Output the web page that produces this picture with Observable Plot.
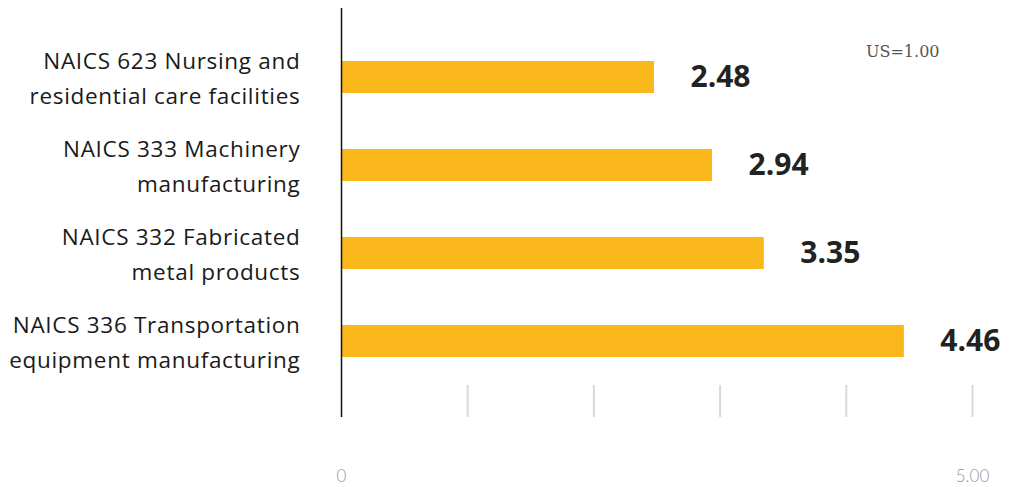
<!DOCTYPE html>
<html>
<head>
<meta charset="utf-8">
<script src="https://cdn.jsdelivr.net/npm/d3@7"></script>
<script src="https://cdn.jsdelivr.net/npm/@observablehq/plot@0.6"></script>
<style>
  html, body { margin: 0; padding: 0; background: #fff; }
  #chart svg { display: block; }
  #chart g[aria-label="y-axis tick label"] text { letter-spacing: 0.7px; }
</style>
</head>
<body>
<div id="chart"></div>
<script>
const categories = [
  "NAICS 623 Nursing and\nresidential care facilities",
  "NAICS 333 Machinery\nmanufacturing",
  "NAICS 332 Fabricated\nmetal products",
  "NAICS 336 Transportation\nequipment manufacturing"
];
const values = [2.48, 2.94, 3.35, 4.46];
const valueLabels = ["2.48", "2.94", "3.35", "4.46"];
const gridTicks = [1, 2, 3, 4, 5];
const axisTicks = [0, 5];
const axisTickLabels = ["0", "5.00"];
const note = "US=1.00";

const data = categories.map((c, i) => ({category: c, value: values[i], label: valueLabels[i]}));

const chart = Plot.plot({
  width: 1012,
  height: 487,
  marginLeft: 341,
  marginRight: 40,
  marginTop: 8,
  marginBottom: 70,
  style: {fontFamily: "'Open Sans', Lato, sans-serif", background: "#fff"},
  x: {domain: [0, 5]},
  y: {domain: categories, paddingInner: 0.64, paddingOuter: 0.618, align: 0.47},
  marks: [
    Plot.ruleX(gridTicks, {stroke: "#d9d9d9", strokeWidth: 2, insetTop: 377}),
    Plot.barX(data, {y: "category", x: "value", fill: "#F9B71B"}),
    Plot.ruleX([0], {stroke: "#111", strokeWidth: 1.5}),
    Plot.text(data, {y: "category", x: "value", text: "label", textAnchor: "start", dx: 36,
      fontSize: 30, fontWeight: 700, fill: "#222"}),
    Plot.text([note], {frameAnchor: "top-right", text: d => d, dx: -33, dy: 37,
      fontSize: 16, fontWeight: 300, fill: "#555", fontFamily: "'DejaVu Serif', serif", textAnchor: "end"}),
    Plot.axisY({tickSize: 0, tickPadding: 41, fontSize: 22.5, lineHeight: 1.55, dy: -2, fill: "#1a1a1a", label: null}),
    Plot.axisX(axisTicks, {tickSize: 0, tickPadding: 52, fontSize: 17, fontWeight: 300, fill: "#999",
      fontFamily: "Lato, sans-serif", label: null,
      tickFormat: d => axisTickLabels[axisTicks.indexOf(d)]})
  ]
});
document.getElementById("chart").appendChild(chart);
</script>
</body>
</html>
